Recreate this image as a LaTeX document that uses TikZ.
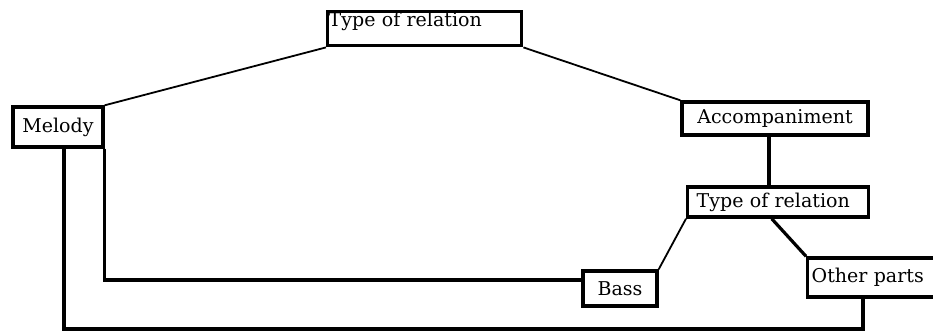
\documentclass[tikz,border=0pt]{standalone}
\usepackage{fontspec}
\newfontfamily\partfont{DejaVu Serif}

\begin{document}
\begin{tikzpicture}
  [x=1pt,y=-1pt,
   part node/.style={draw,line width=3.4pt,inner sep=0pt,
     font=\partfont\fontsize{19}{22}\selectfont},
   thin link/.style={line width=1.8pt},
   thick link/.style={line width=3.2pt}]
  \useasboundingbox (0,0) rectangle (933,332);
  \clip (0,0) rectangle (933,332);

  \node[part node,anchor=north west,text width=192pt,inner xsep=1pt,align=left,
        text height=15.5pt,text depth=19pt] (top) at (326,9.5) {Type of relation};
  \node[part node,minimum width=90pt,minimum height=40pt] (melody) at (58,127) {Melody};
  \node[part node,minimum width=186pt,minimum height=33pt] (acc) at (775,118.5) {Accompaniment};
  \node[part node,anchor=west,text width=163pt,inner xsep=9pt,align=left,
        minimum height=30pt] (rel) at (686,202) {Type of relation};
  \node[part node,minimum width=74pt,minimum height=35pt] (bass) at (620,288.5) {Bass};
  \node[part node,anchor=west,text width=126pt,inner xsep=4pt,align=left,
        minimum height=39pt] (others) at (806,277.5) {Other parts};
  \coordinate (low) at (863,329);

  \path[] (top.south west) [thin link] edge node [] {} (melody.north east);
  \path[] (top.south east) [thin link] edge node [] {} (acc.north west);
  \path[] ([xshift=-6pt]acc.south) [thick link] edge node [] {} ([xshift=-6pt]acc.south |- rel.north);
  \path[] (rel.south west) [thin link] edge node [] {} (bass.north east);
  \path[] ([xshift=-6.5pt]rel.south) [thick link] edge node [] {} (others.north west);
  \draw[thick link] (melody.south east) |- ([yshift=8.5pt]bass.west);
  \draw[thick link] ([xshift=6pt]melody.south) |- (low) -- (low |- others.south);
\end{tikzpicture}
\end{document}
